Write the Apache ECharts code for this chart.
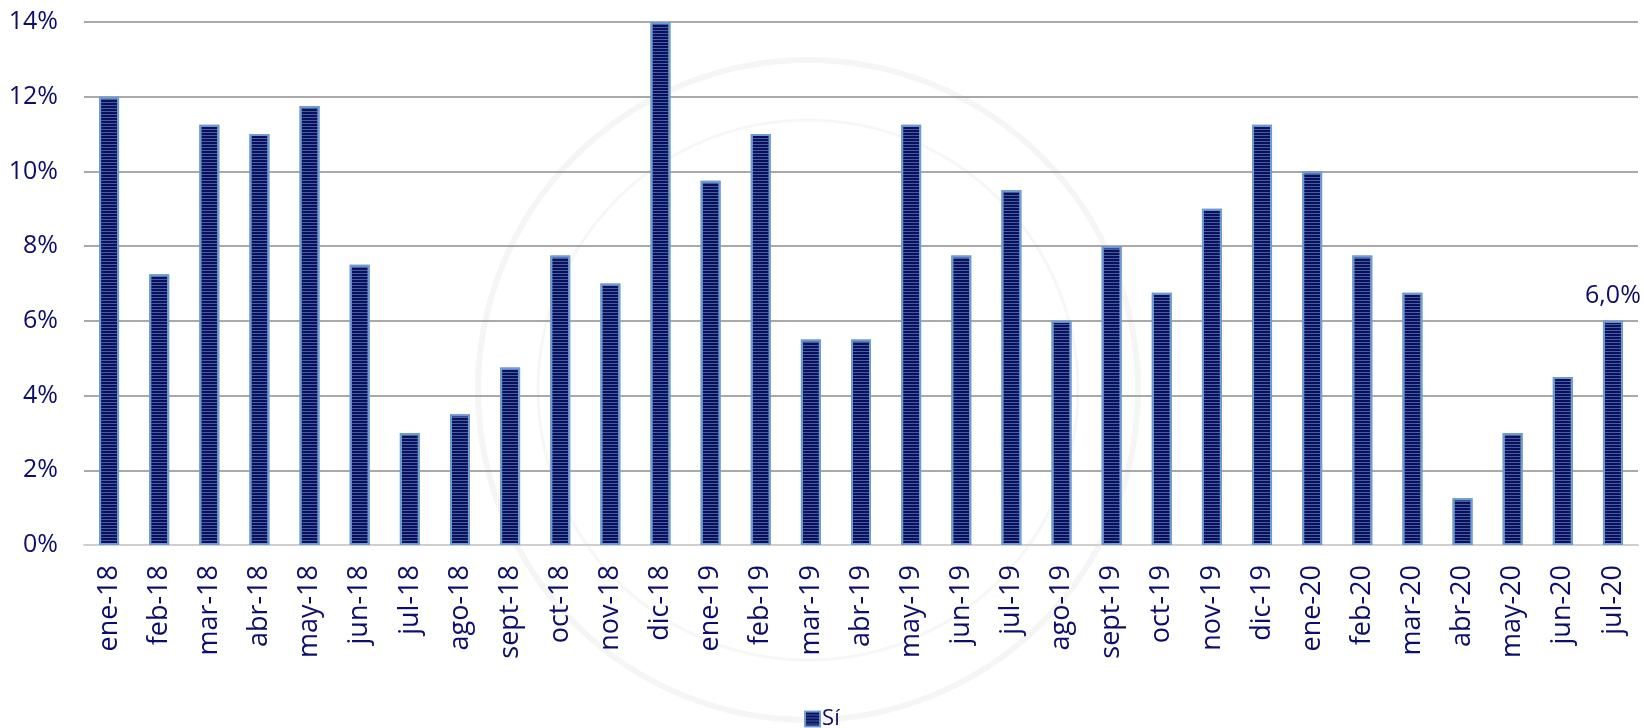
<!DOCTYPE html>
<html>
<head>
<meta charset="utf-8">
<script src="https://cdn.jsdelivr.net/npm/echarts@6/dist/echarts.min.js"></script>
<style>
html,body{margin:0;padding:0;background:#fff;}
#chart{width:1644px;height:728px;}
</style>
</head>
<body>
<div id="chart"></div>
<script>
const categories = ['ene-18','feb-18','mar-18','abr-18','may-18','jun-18','jul-18','ago-18','sept-18','oct-18','nov-18','dic-18',
  'ene-19','feb-19','mar-19','abr-19','may-19','jun-19','jul-19','ago-19','sept-19','oct-19','nov-19','dic-19',
  'ene-20','feb-20','mar-20','abr-20','may-20','jun-20','jul-20'];
const siValues = [12.0,7.25,11.25,11.0,11.75,7.5,3.0,3.5,4.75,7.75,7.0,14.0,
  9.75,11.0,5.5,5.5,11.25,7.75,9.5,6.0,8.0,6.75,9.0,11.25,
  10.0,7.75,6.75,1.25,3.0,4.5,6.0];
const seriesName = 'Sí';
const labelledIndex = 30;

const textColor = '#0d0d6b';
const font = '"Open Sans", "DejaVu Sans", sans-serif';

const chart = echarts.init(document.getElementById('chart'), null, {renderer:'canvas'});
chart.setOption({
  animation: false,
  backgroundColor: '#fff',
  graphic: [
    {type:'circle', shape:{cx:808, cy:390, r:330}, style:{fill:'none', stroke:'rgba(0,0,0,0.04)', lineWidth:6}, z:-10},
    {type:'circle', shape:{cx:808, cy:390, r:270}, style:{fill:'none', stroke:'rgba(0,0,0,0.035)', lineWidth:3}, z:-10}
  ],
  grid: {left:84, right:6, top:22, bottom:183, containLabel:false},
  legend: {
    data:[seriesName], top:703, left:'center',
    icon:'rect', itemWidth:15, itemHeight:15, itemGap:6,
    itemStyle:{color:'#0b105e', borderColor:'#6f9bd1', borderWidth:1.5},
    textStyle:{color:textColor, fontSize:22, fontFamily:font, padding:[0,0,0,-3]}
  },
  xAxis: {
    type:'category', data:categories,
    axisTick:{show:false},
    axisLine:{show:true, lineStyle:{color:'#cfcfcf', width:2}},
    axisLabel:{rotate:90, color:textColor, fontSize:27, fontFamily:font, margin:20, interval:0}
  },
  yAxis: {
    type:'value', min:0, max:14, interval:2,
    axisLine:{show:false}, axisTick:{show:false},
    splitLine:{lineStyle:{color:'#8c8c8c', width:1.5}},
    axisLabel:{formatter:'{value}%', color:textColor, fontSize:25, fontFamily:font, margin:26}
  },
  series: [{
    name: seriesName, type:'bar', barWidth:20,
    data: siValues.map((v,i)=> i===labelledIndex ? {value:v, label:{show:true}} : v),
    itemStyle:{
      color:'#0b105e', borderColor:'#6f9bd1', borderWidth:2,
      decal:{symbol:'rect', symbolSize:1, dashArrayX:[[8,0]], dashArrayY:[1,2], rotation:0, color:'rgba(90,120,180,0.75)'}
    },
    label:{show:false, position:'top', distance:12, color:textColor, fontSize:25, fontFamily:font,
      formatter:p=>p.value.toFixed(1).replace('.',',')+'%'}
  }]
});
</script>
</body>
</html>
